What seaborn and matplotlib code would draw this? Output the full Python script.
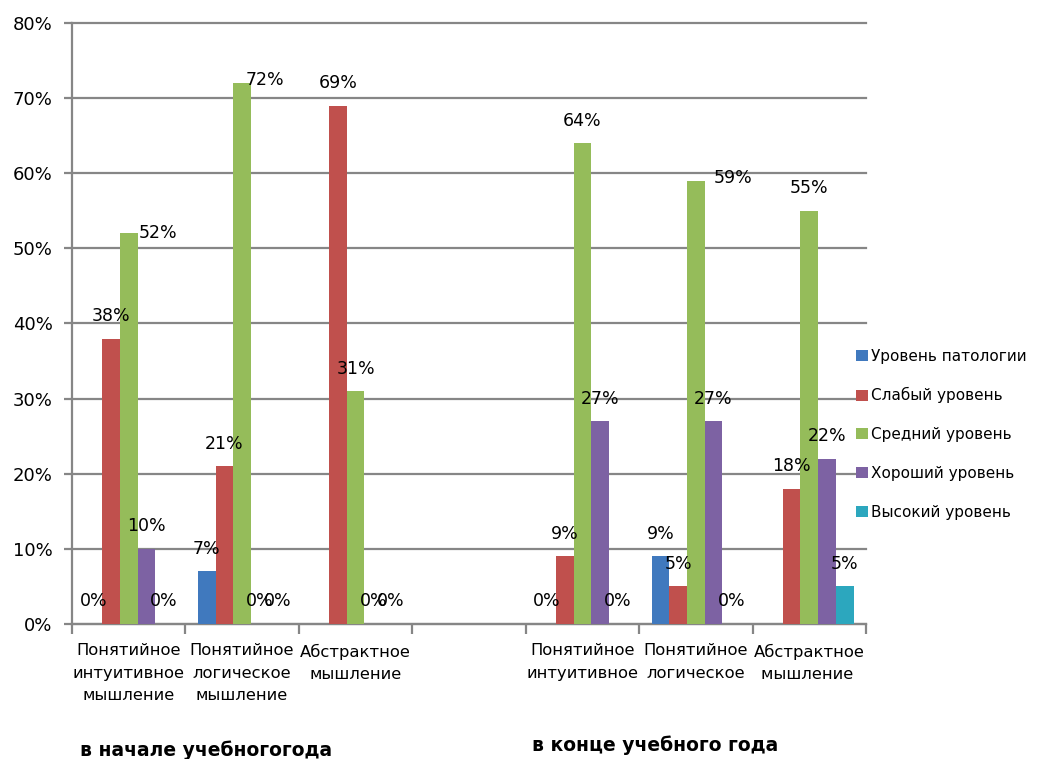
import matplotlib
matplotlib.use("Agg")
import matplotlib.pyplot as plt
import seaborn as sns
import numpy as np
import pandas as pd

categories = [
    "Понятийное\nинтуитивное\nмышление",
    "Понятийное\nлогическое\nмышление",
    "Абстрактное\nмышление",
    " ",
    "Понятийное\nинтуитивное",
    "Понятийное\nлогическое",
    "Абстрактное\nмышление ",
]
series_names = ["Уровень патологии", "Слабый уровень", "Средний уровень",
                "Хороший уровень", "Высокий уровень"]
pathology = [0, 7, np.nan, np.nan, 0, 9, np.nan]
weak      = [38, 21, 69, np.nan, 9, 5, 18]
medium    = [52, 72, 31, np.nan, 64, 59, 55]
good      = [10, 0, 0, np.nan, 27, 27, 22]
high      = [0, 0, 0, np.nan, 0, 0, 5]
group_titles = ["в начале учебногогода", "в конце учебного года"]
colors = ["#4079BE", "#C0504D", "#95BC5A", "#7D62A3", "#2CA7BE"]

rows = []
for name, vals in zip(series_names, [pathology, weak, medium, good, high]):
    for cat, v in zip(categories, vals):
        rows.append({"cat": cat, "series": name, "value": v})
df = pd.DataFrame(rows).dropna()

plt.rcParams["font.family"] = ["DejaVu Sans"]
fig = plt.figure(figsize=(10.4, 7.59), dpi=100)
ax = fig.add_axes([0.0692, 0.1779, 0.7635, 0.7918])

sns.barplot(data=df, x="cat", y="value", hue="series", order=categories,
            hue_order=series_names, palette=colors, width=0.78,
            saturation=1, errorbar=None, ax=ax, zorder=3)

ax.set_ylim(0, 80)
ax.set_xlim(-0.5, len(categories) - 0.5)
ax.set_yticks(np.arange(0, 81, 10))
ax.set_yticklabels([f"{v}%" for v in range(0, 81, 10)], fontsize=13)
ax.yaxis.grid(True, color="#868686", lw=1.6, zorder=0)
for gl in ax.yaxis.get_gridlines():
    gl.set_clip_on(False)
ax.set_axisbelow(True)
for s in ["top", "right"]:
    ax.spines[s].set_visible(False)
for s in ["left", "bottom"]:
    ax.spines[s].set_color("#868686")
    ax.spines[s].set_linewidth(1.6)
ax.tick_params(axis="y", length=6, width=1.6, color="#868686", pad=8)
ax.set_xticks(range(len(categories)))
ax.set_xticklabels(categories, fontsize=11.8, linespacing=1.62, va="top")
ax.tick_params(axis="x", which="major", length=0, pad=14)
ax.set_xticks(np.arange(-0.5, len(categories), 1), minor=True)
ax.tick_params(axis="x", which="minor", length=7, width=1.6, color="#868686")
ax.set_xlabel("")
ax.set_ylabel("")

# value labels
nudge = {"52": (0.26, -3.0), "72": (0.2, -2.6), "59": (0.33, -2.6)}
for cont in ax.containers:
    for bar in cont:
        h = bar.get_height()
        if np.isnan(h):
            continue
        x = bar.get_x() + bar.get_width() / 2
        lab = f"{h:.0f}%"
        dx, dy = nudge.get(f"{h:.0f}", (0, 0))
        ax.text(x + dx, h + 1.8 + dy, lab, ha="center", va="bottom",
                fontsize=12.5, zorder=5)

leg = ax.legend(loc="center left", bbox_to_anchor=(0.978, 0.316), frameon=False,
                fontsize=11, handlelength=0.75, handleheight=0.75,
                handletextpad=0.25, labelspacing=1.55, borderpad=0)

fig.text(0.077, 0.004, group_titles[0], fontsize=13.5, fontweight="bold",
         ha="left", va="baseline")
fig.text(0.512, 0.010, group_titles[1], fontsize=13.5, fontweight="bold",
         ha="left", va="baseline")

fig.savefig("out.png", dpi=100)
